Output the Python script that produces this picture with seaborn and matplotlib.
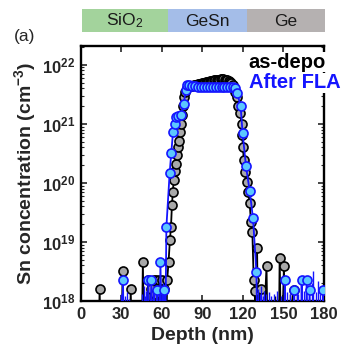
import numpy as np
import matplotlib
matplotlib.use("Agg")
import matplotlib.pyplot as plt
from matplotlib.ticker import LogLocator, FixedLocator, NullFormatter
import seaborn as sns

# ---------------- data ----------------
asdepo_depth = [0, 13, 14, 15, 30, 31, 32, 36, 37, 38, 45, 46, 47, 49, 50, 51, 52, 53, 54, 55, 56, 57,
                58, 59, 60, 61, 62, 63, 64, 65, 66, 66.8, 67.5, 68.2, 68.8, 69.5, 70.2, 71.0, 71.8,
                72.5, 73.4, 74.3, 75.0, 75.8, 76.6, 77.5, 78.5, 79.5, 80.5, 81.5, 82.5, 83.5, 84.5,
                85.5, 86.5, 87.5, 88.5, 89.5, 90.5, 91.5, 92.5, 93.5, 94.5, 95.5, 96.5, 97.5, 98.5,
                99.5, 100.5, 101.5, 102.5, 103.5, 104.5, 105.5, 106.5, 107.5, 108.5, 109.5, 110.5,
                111.5, 112.5, 113.5, 114.5, 115.5, 116.5, 118.0, 119.0, 119.5, 120.0, 120.7, 121.8,
                123.0, 124.0, 125.0, 126.0, 127.0, 128.0, 128.8, 129.6, 130.5, 131.5, 133.5, 134.5,
                137.5, 138.5, 146.5, 147.2, 148.5, 150.4, 151.5, 157.5, 158.5, 180]
asdepo_conc = [1e17, 1e17, 1.6e18, 1e17, 1e17, 3.2e18, 1e17, 1e17, 1.6e18, 1e17, 1e17, 4.6e18, 1e17,
               1e17, 2.3e18, 1e17, 1.6e18, 1e17, 2.3e18, 1.3e18, 2.3e18, 1e17,
               2.3e18, 1.6e18, 2.3e18, 1e17, 1.6e18, 1e17, 2.3e18, 4.6e18, 1.07e19, 1.8e19, 4.2e19,
               7.1e19, 1.1e20, 1.6e20, 2.1e20, 3.0e20, 4.0e20, 5.2e20, 7.2e20, 1.0e21, 1.4e21,
               2.0e21, 2.8e21, 3.5e21, 4.0e21, 4.2e21, 4.3e21, 4.4e21, 4.4e21, 4.5e21, 4.5e21,
               4.6e21, 4.7e21, 4.7e21, 4.8e21, 4.9e21, 5.0e21, 5.0e21, 5.1e21, 5.2e21, 5.2e21,
               5.3e21, 5.4e21, 5.4e21, 5.5e21, 5.5e21, 5.6e21, 5.6e21, 5.6e21, 5.7e21, 5.7e21,
               5.7e21, 5.6e21, 5.6e21, 5.5e21, 5.4e21, 5.2e21, 4.9e21, 4.5e21, 4.0e21, 3.5e21,
               2.8e21, 2.0e21, 1.5e21, 1.0e21, 6.5e20, 4.1e20, 2.4e20, 1.5e20, 1.05e20, 7.1e19,
               4.5e19, 2.2e19, 1.5e19, 2.3e18, 1.5e18, 1e17, 7.8e18, 1e17, 1.6e18, 1e17,
               3.9e18, 1e17, 1e17, 5.4e18, 1e17, 3.9e18, 1e17, 1.55e18, 1e17, 1e17]

fla_depth = [0, 30.5, 31.3, 32, 49.3, 50, 51, 52.3, 53.3, 56.0, 56.7, 57.5, 58.3, 59.0, 60.0, 61.0,
             61.6, 62.4, 63.4, 65.8, 67.0, 68.3, 69.6, 70.7, 72.3, 74.2, 76.1, 77.9, 78.8, 80.0,
             82.2, 84.4, 86.6, 88.8, 91.0, 93.2, 95.4, 97.6, 99.8, 102.0, 104.2, 106.4, 108.6,
             110.8, 113.0, 114.5, 115.8, 118.3, 119.8, 122.3, 125.0, 127.5, 130.0, 131.0, 150.3,
             151.0, 151.8, 157.3, 158.0, 158.7, 162.8, 163.5, 164.3, 166.5, 167.2, 168.2, 169.4,
             170.2, 179.0, 179.6, 180]
fla_conc = [1e17, 1e17, 2.3e18, 1e17, 1e17, 2.3e18, 1e17, 2.3e18, 1e17, 1e17, 1.55e18, 1e17, 1e17,
            4.6e18, 1e17, 1e17, 1.55e18, 1e17, 1.8e19, 1.45e20, 3.2e20, 7.2e20, 1.0e21, 1.3e21,
            1.35e21, 1.4e21, 2.15e21, 3.7e21, 4.6e21, 4.5e21, 4.4e21, 4.3e21, 4.25e21, 4.2e21,
            4.2e21, 4.2e21, 4.2e21, 4.2e21, 4.2e21, 4.2e21, 4.2e21, 4.2e21, 4.2e21, 4.2e21,
            4.2e21, 4.0e21, 3.3e21, 2.0e21, 6.9e20, 1.9e20, 7.4e19, 2.5e19, 3.1e18, 1e17, 1e17,
            2.3e18, 1e17, 1e17, 1.55e18, 1e17, 1e17, 2.3e18, 1e17, 1e17, 2.3e18, 1e17, 1.55e18,
            1e17, 1e17, 1.55e18, 1e17]

# noise spikes (line only)
asdepo_spike_depth = [51.5, 55.5, 57.5, 60.5, 130.0, 132.0, 136.0, 144.0, 155.0, 160.0]
asdepo_spike_conc = [1.4e18, 1.5e18, 1.9e18, 1.4e18, 2.0e18, 1.3e18, 1.4e18, 1.2e18, 1.3e18, 1.3e18]
fla_spike_depth = [30, 33, 34.5, 36, 45, 46.5, 47.5, 48.5, 53.5, 54.5, 55.5, 58, 60.5, 61,
                   131.5, 132.5, 133.5, 135, 136, 137, 139, 141, 143, 145, 148, 152.5, 155, 160,
                   161, 165, 171, 172, 174, 175.3, 177]
fla_spike_conc = [1.3e18, 1.2e18, 1.4e18, 1.1e18, 1.3e18, 1.8e18, 1.2e18, 1.5e18, 1.6e18, 1.3e18,
                  1.9e18, 1.3e18, 1.5e18, 2.0e18,
                  1.6e18, 1.3e18, 1.8e18, 1.2e18, 1.5e18, 1.3e18, 1.4e18, 1.2e18, 1.3e18, 1.5e18,
                  1.2e18, 1.4e18, 1.3e18, 1.6e18, 1.3e18, 1.5e18, 2.0e18, 3.2e18, 1.4e18, 2.2e18,
                  1.3e18]

layer_names = ["SiO$_\\mathsf{2}$", "GeSn", "Ge"]
layer_edges = [0, 64, 122.3, 180]
layer_colors = ["#a3d39c", "#a4bde8", "#b5b1b1"]

xticks = [0, 30, 60, 90, 120, 150, 180]
yticks = [1e18, 1e19, 1e20, 1e21, 1e22]
ytick_labels = ["$10^{18}$", "$10^{19}$", "$10^{20}$", "$10^{21}$", "$10^{22}$"]

# ---------------- style ----------------
sns.set_style("ticks")
plt.rcParams["font.family"] = ["Liberation Sans", "DejaVu Sans"]
plt.rcParams["mathtext.fontset"] = "custom"
plt.rcParams["mathtext.rm"] = "Liberation Sans:bold"
plt.rcParams["mathtext.it"] = "Liberation Sans:bold"
plt.rcParams["mathtext.bf"] = "Liberation Sans:bold"
plt.rcParams["mathtext.sf"] = "Liberation Sans"

fig = plt.figure(figsize=(3.47, 3.50), dpi=100)
ax = fig.add_axes([0.2326, 0.140, 0.701, 0.7294])

LO = 1e17
ax.vlines(asdepo_spike_depth, LO, asdepo_spike_conc, color="black", linewidth=1.0, zorder=2)
sns.lineplot(x=asdepo_depth, y=asdepo_conc, ax=ax, color="black", linewidth=1.3,
             marker="o", markersize=6.5, markerfacecolor="#a9a9a9", markeredgecolor="black",
             markeredgewidth=1.2, estimator=None, sort=False, zorder=3)
ax.vlines(fla_spike_depth, LO, fla_spike_conc, color="#1515ff", linewidth=1.0, zorder=4)
sns.lineplot(x=fla_depth, y=fla_conc, ax=ax, color="#1515ff", linewidth=1.3,
             marker="o", markersize=6.5, markerfacecolor="#5cc8ff", markeredgecolor="#1515ff",
             markeredgewidth=1.2, estimator=None, sort=False, zorder=5)

ax.set_yscale("log")
ax.set_xlim(0, 180)
ax.set_ylim(1e18, 2.1e22)
ax.xaxis.set_major_locator(FixedLocator(xticks))
ax.set_xticklabels([str(t) for t in xticks], fontsize=12, fontweight="bold")
ax.yaxis.set_major_locator(FixedLocator(yticks))
ax.set_yticklabels(ytick_labels, fontsize=12)
ax.yaxis.set_minor_locator(LogLocator(base=10, subs=np.arange(2, 10)))
ax.yaxis.set_minor_formatter(NullFormatter())
ax.tick_params(axis="both", which="major", direction="in", length=4, width=1.2,
               top=True, right=True, pad=4)
ax.tick_params(axis="y", which="minor", direction="in", length=2, width=0.8, right=True)
for s in ax.spines.values():
    s.set_linewidth(1.7)
    s.set_color("black")

ax.set_xlabel("Depth (nm)", fontsize=14, fontweight="bold", labelpad=4)
ax.set_ylabel("Sn concentration (cm$^{-3}$)", fontsize=14, fontweight="bold", labelpad=3)

box = dict(facecolor="white", edgecolor="none", pad=0.3)
ax.text(0.69, 0.936, "as-depo", transform=ax.transAxes, fontsize=14.5, fontweight="bold",
        color="black", ha="left", va="center", zorder=10, clip_on=False, bbox=box)
ax.text(0.69, 0.855, "After FLA", transform=ax.transAxes, fontsize=14.5, fontweight="bold",
        color="#1515ff", ha="left", va="center", zorder=10, clip_on=False, bbox=box)

# layer band
bax = fig.add_axes([0.2355, 0.908, 0.701, 0.066])
bax.set_xlim(0, 180)
bax.set_ylim(0, 1)
for i, name in enumerate(layer_names):
    bax.axvspan(layer_edges[i], layer_edges[i + 1], color=layer_colors[i], lw=0)
    bax.text((layer_edges[i] + layer_edges[i + 1]) / 2, 0.48, name, ha="center", va="center",
             fontsize=12.5, color="#1a1a1a")
bax.axis("off")

fig.text(0.04, 0.895, "(a)", fontsize=12.5, ha="left", va="center")

fig.savefig("out.png", dpi=100)
